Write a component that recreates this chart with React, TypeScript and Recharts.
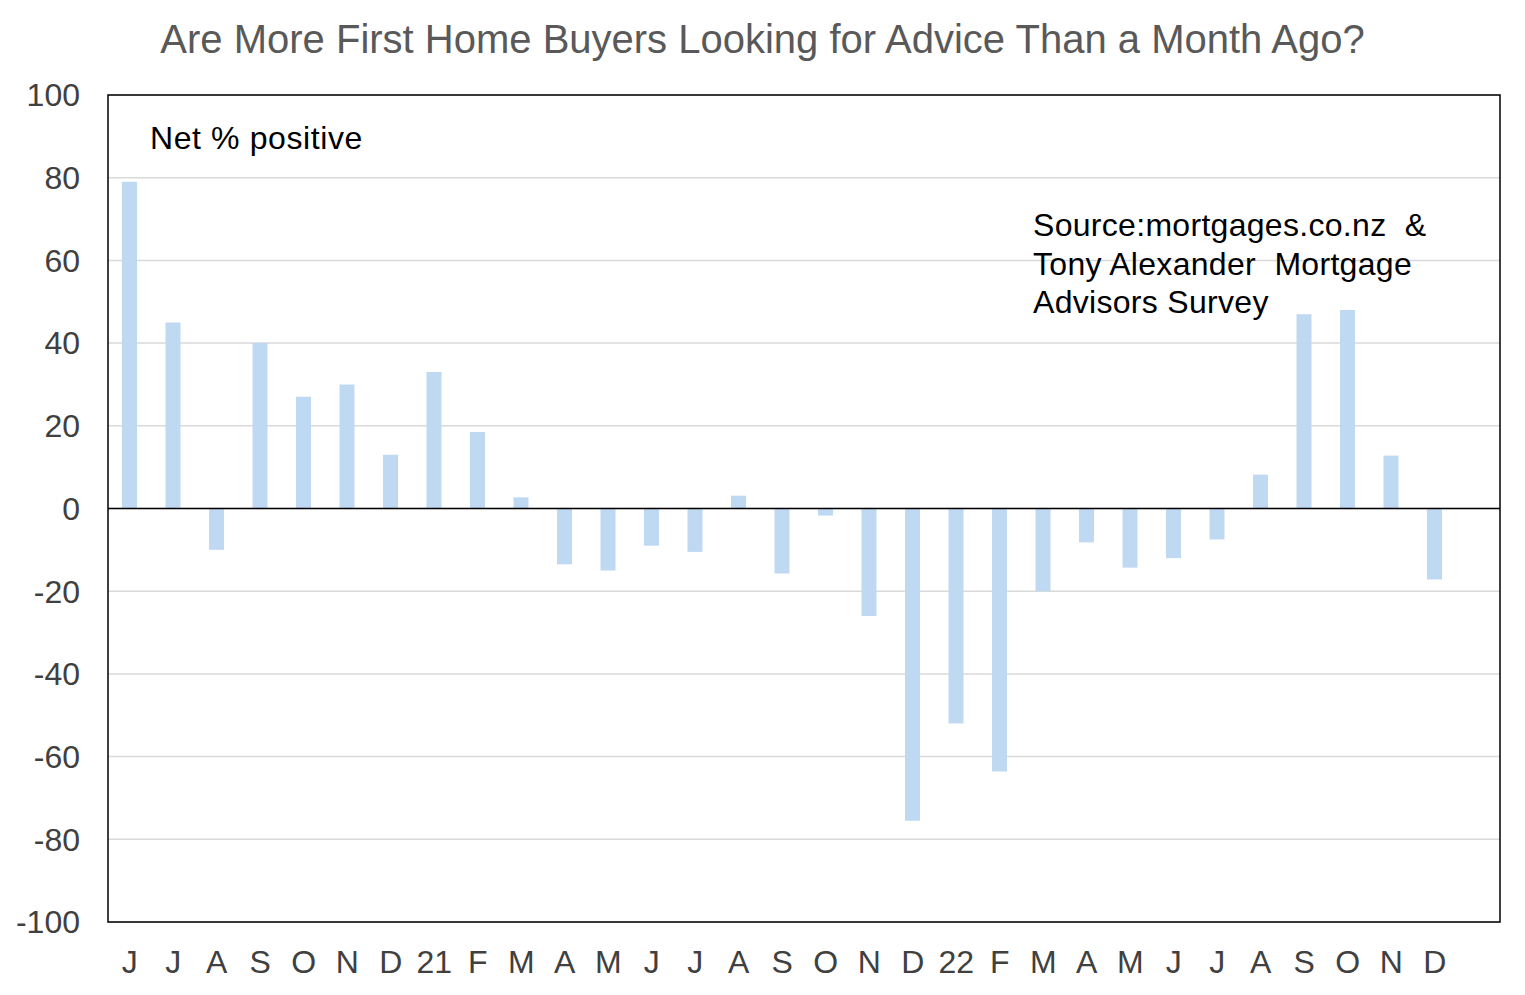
import {
  BarChart,
  Bar,
  XAxis,
  YAxis,
  CartesianGrid,
  ReferenceLine,
  ReferenceArea,
} from "recharts";

// months from Jun 2020 to Dec 2022, plus an empty slot at the end
const months = [
  "J", "J", "A", "S", "O", "N", "D", "21", "F", "M", "A", "M", "J", "J", "A", "S",
  "O", "N", "D", "22", "F", "M", "A", "M", "J", "J", "A", "S", "O", "N", "D", "",
];

const netPositive = [
  79, 45, -10, 40, 27, 30, 13, 33, 18.5, 2.7, -13.5, -15, -9, -10.5, 3.1, -15.7,
  -1.7, -26, -75.5, -52, -63.6, -20, -8.2, -14.3, -12, -7.5, 8.2, 47, 48, 12.8, -17.2, null,
];

const yTicks = [-100, -80, -60, -40, -20, 0, 20, 40, 60, 80, 100];

const data = months.map((m, i) => ({ m, v: netPositive[i] }));

const font = "'Liberation Sans', Arial, sans-serif";

export default function App() {
  return (
    <div style={{ position: "absolute", left: 0, top: 0, width: 1525, height: 995, background: "#fff", fontFamily: font }}>
      <div
        style={{
          position: "absolute",
          left: 0,
          top: 17,
          width: 1525,
          textAlign: "center",
          fontSize: 40,
          color: "#595959",
        }}
      >
        Are More First Home Buyers Looking for Advice Than a Month Ago?
      </div>
      <BarChart
        width={1525}
        height={995}
        data={data}
        margin={{ top: 95, right: 25, bottom: 0, left: 0 }}
        barSize={15}
      >
        <CartesianGrid horizontal vertical={false} stroke="#d9d9d9" strokeWidth={1.5} />
        <XAxis
          dataKey="m"
          height={73}
          axisLine={false}
          tickLine={false}
          tickSize={0}
          tickMargin={28}
          interval={0}
          tick={{ fill: "#404040", fontSize: 32, fontFamily: font }}
        />
        <YAxis
          width={108}
          domain={[-100, 100]}
          ticks={yTicks}
          axisLine={false}
          tickLine={false}
          tickSize={0}
          tickMargin={28}
          tick={{ fill: "#404040", fontSize: 32, fontFamily: font }}
        />
        <Bar dataKey="v" fill="#bfd9f2" isAnimationActive={false} />
        <ReferenceLine y={0} stroke="#000" strokeWidth={1.5} />
        <ReferenceArea y1={-100} y2={100} fill="none" stroke="#000" strokeWidth={1.5} />
      </BarChart>
      <div style={{ position: "absolute", left: 150, top: 120, fontSize: 32, letterSpacing: 0.6, color: "#000" }}>
        Net % positive
      </div>
      <div
        style={{
          position: "absolute",
          left: 1033,
          top: 206,
          fontSize: 32,
          lineHeight: "38.5px",
          letterSpacing: 0.3,
          color: "#000",
          whiteSpace: "pre",
        }}
      >
        {"Source:mortgages.co.nz  &\nTony Alexander  Mortgage\nAdvisors Survey"}
      </div>
    </div>
  );
}
